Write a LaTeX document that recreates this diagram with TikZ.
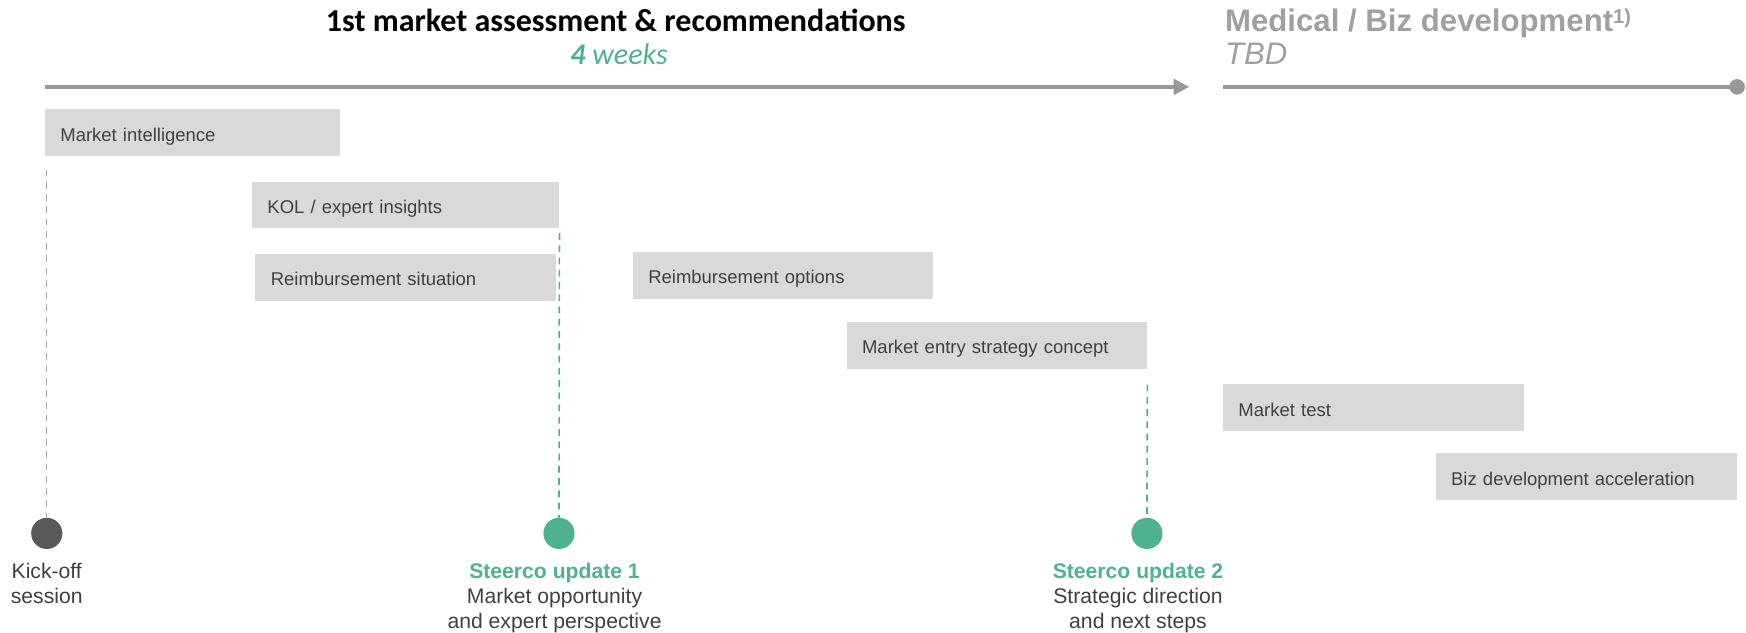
\documentclass[tikz,border=0pt]{standalone}
\usepackage{fontspec}
\setmainfont{Liberation Sans}
\newfontfamily\carlito{Carlito}
\usetikzlibrary{arrows.meta,calc}
\definecolor{linegray}{RGB}{152,152,152}
\definecolor{boxgray}{RGB}{217,217,217}
\definecolor{txt}{RGB}{64,64,64}
\definecolor{grn}{RGB}{78,178,146}
\definecolor{dkgray}{RGB}{89,89,89}
\definecolor{hdgray}{RGB}{160,160,162}
\definecolor{dashgray}{RGB}{170,170,170}
\begin{document}
\begin{tikzpicture}[x=1pt,y=1pt,
 bar/.style={fill=boxgray, anchor=north west, inner xsep=14pt, inner ysep=0pt, minimum height=42pt, text height=15pt, text depth=0pt, align=left, font=\fontsize{16.6}{19}\selectfont, text=txt},
 ms/.style={circle, minimum size=28pt, inner sep=0pt},
 lbl/.style={anchor=north, align=center, inner sep=0pt, font=\fontsize{19}{22.5}\selectfont, text=txt},
 gdash/.style={dash pattern=on 6pt off 5pt, line width=1.5pt, draw=grn},
 kdash/.style={dash pattern=on 6pt off 5pt, line width=1.3pt, draw=dashgray},
 tl/.style={line width=3pt, draw=linegray}]
\useasboundingbox (0,0) rectangle (1568,-568);

% headings
\node[font=\carlito\bfseries\fontsize{28.7}{34}\selectfont, anchor=base, inner sep=0pt] (h1) at (553,-28) {1st market assessment \& recommendations};
\node[font=\carlito\itshape\fontsize{27}{32}\selectfont, text=grn, anchor=base, inner sep=0pt] (h1b) at (556,-58) {\textbf{4} weeks};
\node[font=\bfseries\fontsize{28}{32}\selectfont, text=hdgray, anchor=base west, inner sep=0pt] (h2) at (1100,-28) {Medical / Biz development\raisebox{7pt}{\fontsize{18}{20}\selectfont 1)}};
\node[font=\itshape\fontsize{28}{32}\selectfont, text=hdgray, anchor=base west, inner sep=0pt] (h2b) at (1100,-58) {TBD};

% timeline
\coordinate (a0) at (40,-78);
\coordinate (a1) at (1068,-78);
\coordinate (b0) at (1098,-78);
\node[circle, fill=linegray, minimum size=14pt, inner sep=0pt] (b1) at (1560,-78) {};
\draw[tl, -{Triangle[length=14pt,width=14pt]}] (a0) -- (a1);
\draw[tl] (b0) -- (b1.center);

% bars
\node[bar, text width=237pt] (mi) at (40,-98) {Market intelligence};
\node[bar, text width=248pt] (kol) at (226,-163) {KOL / expert insights};
\node[bar, text width=242pt] (rs) at (229,-228) {Reimbursement situation};
\node[bar, text width=242pt] (ro) at (568,-226) {Reimbursement options};
\node[bar, text width=242pt] (me) at (760,-289) {Market entry strategy concept};
\node[bar, text width=242pt] (mt) at (1098,-345) {Market test};
\node[bar, text width=243pt] (bd) at (1289,-407) {Biz development acceleration};

% milestones
\node[ms, fill=dkgray] (k0) at (42,-479) {};
\node[ms, fill=grn] (s1) at (502,-479) {};
\node[ms, fill=grn] (s2) at (1030,-479) {};

\draw[kdash] ([yshift=-12pt]mi.south -| k0) -- (k0.north);
\draw[gdash] ([yshift=-4pt]kol.south east) -- (s1.north);
\draw[gdash] ([yshift=-14pt]me.south east) -- (s2.north);

\node[lbl] (k0l) at (42,-505.5) {Kick-off\\session};
\node[lbl] (s1l) at (498,-505.5) {\textcolor{grn}{\bfseries Steerco update 1}\\Market opportunity\\and expert perspective};
\node[lbl] (s2l) at (1022,-505.5) {\textcolor{grn}{\bfseries Steerco update 2}\\Strategic direction\\and next steps};
\end{tikzpicture}
\end{document}
